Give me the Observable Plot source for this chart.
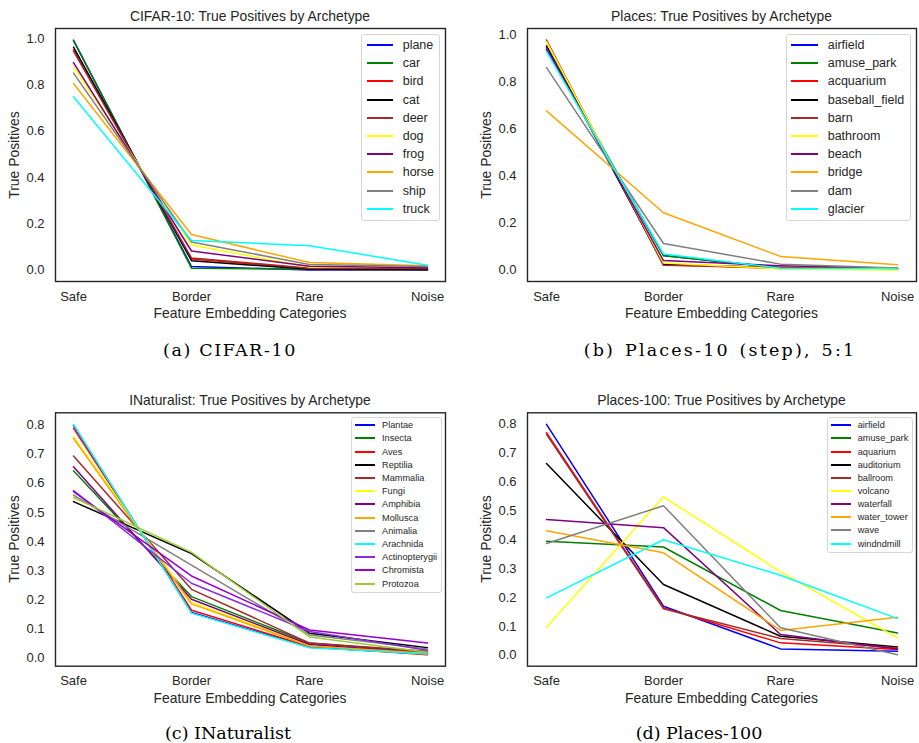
<!DOCTYPE html>
<html>
<head>
<meta charset="utf-8">
<script src="https://cdn.jsdelivr.net/npm/d3@7"></script>
<script src="https://cdn.jsdelivr.net/npm/@observablehq/plot@0.6"></script>
<style>
  body { margin: 0; background: #fff; }
  #root { position: relative; width: 919px; height: 743px; overflow: hidden;
          font-family: "Liberation Sans", Arial, sans-serif; color: #262626; background:#fff; }
  .abs { position: absolute; white-space: nowrap; }
  .ctr { transform: translate(-50%, -50%); }
  .ttl { font-size: 13.9px; }
  .axt { font-size: 13.9px; }
  .ylab { font-size: 13.9px; transform: translate(-50%, -50%) rotate(-90deg); }
  .cap { font-family: "DejaVu Serif", "Liberation Serif", serif; font-size: 17.5px; color: #000; }
  .leg { position: absolute; border: 1px solid #d6d6d6; border-radius: 3px; background: rgba(255,255,255,0.8); }
  .leg .sw { position: absolute; height: 2px; }
  .leg .lt { position: absolute; transform: translateY(-50%); white-space: nowrap; color: #262626; }
</style>
</head>
<body>
<div id="root"></div>
<script>
// ---------- shared ----------
const categories = ["Safe", "Border", "Rare", "Noise"];
const ticks10 = [0, 0.2, 0.4, 0.6, 0.8, 1.0];
const ticks08 = [0, 0.1, 0.2, 0.3, 0.4, 0.5, 0.6, 0.7, 0.8];

// ---------- (a) CIFAR-10 ----------
const cifarClasses = ["plane", "car", "bird", "cat", "deer", "dog", "frog", "horse", "ship", "truck"];
const cifarColors = ["#0000ff", "#008000", "#ff0000", "#000000", "#a52a2a", "#ffff00", "#800080", "#ffa500", "#808080", "#00ffff"];
// values per class: [Safe, Border, Rare, Noise]
const cifarValues = [
  [0.990, 0.015, 0.000, 0.002],
  [0.993, 0.008, 0.003, 0.003],
  [0.950, 0.048, 0.006, 0.008],
  [0.962, 0.040, 0.003, 0.000],
  [0.945, 0.052, 0.008, 0.006],
  [0.878, 0.108, 0.013, 0.012],
  [0.895, 0.082, 0.016, 0.010],
  [0.805, 0.153, 0.032, 0.018],
  [0.850, 0.121, 0.024, 0.015],
  [0.748, 0.127, 0.105, 0.021]
];

// ---------- (b) Places-10 ----------
const placesClasses = ["airfield", "amuse_park", "acquarium", "baseball_field", "barn", "bathroom", "beach", "bridge", "dam", "glacier"];
const placesColors = ["#0000ff", "#008000", "#ff0000", "#000000", "#a52a2a", "#ffff00", "#800080", "#ffa500", "#808080", "#00ffff"];
const placesValues = [
  [0.940, 0.062, 0.008, 0.005],
  [0.950, 0.061, 0.010, 0.006],
  [0.975, 0.022, 0.006, 0.004],
  [0.955, 0.025, 0.010, 0.006],
  [0.980, 0.020, 0.012, 0.005],
  [0.973, 0.030, 0.005, 0.000],
  [0.948, 0.040, 0.018, 0.007],
  [0.678, 0.244, 0.058, 0.022],
  [0.862, 0.113, 0.025, 0.008],
  [0.932, 0.068, 0.007, 0.006]
];

// ---------- (c) iNaturalist ----------
const inatClasses = ["Plantae", "Insecta", "Aves", "Reptilia", "Mammalia", "Fungi", "Amphibia", "Mollusca", "Animalia", "Arachnida", "Actinopterygii", "Chromista", "Protozoa"];
const inatColors = ["#0000ff", "#008000", "#ff0000", "#000000", "#a52a2a", "#ffff00", "#800080", "#ffa500", "#808080", "#00ffff", "#8a2be2", "#9400d3", "#9acd32"];
const inatValues = [
  [0.800, 0.155, 0.036, 0.012],
  [0.643, 0.210, 0.050, 0.018],
  [0.790, 0.163, 0.038, 0.010],
  [0.537, 0.358, 0.084, 0.034],
  [0.694, 0.235, 0.050, 0.022],
  [0.760, 0.190, 0.042, 0.015],
  [0.657, 0.201, 0.045, 0.016],
  [0.755, 0.185, 0.040, 0.015],
  [0.559, 0.318, 0.078, 0.030],
  [0.803, 0.153, 0.034, 0.012],
  [0.575, 0.256, 0.090, 0.025],
  [0.571, 0.281, 0.095, 0.050],
  [0.551, 0.362, 0.071, 0.018]
];

// ---------- (d) Places-100 ----------
const p100Classes = ["airfield", "amuse_park", "aquarium", "auditorium", "ballroom", "volcano", "waterfall", "water_tower", "wave", "windndmill"];
const p100Colors = ["#0000ff", "#008000", "#ff0000", "#000000", "#a52a2a", "#ffff00", "#800080", "#ffa500", "#808080", "#00ffff"];
const p100Values = [
  [0.800, 0.170, 0.022, 0.014],
  [0.395, 0.375, 0.155, 0.077],
  [0.771, 0.164, 0.043, 0.020],
  [0.664, 0.245, 0.066, 0.029],
  [0.765, 0.161, 0.058, 0.025],
  [0.097, 0.549, 0.289, 0.060],
  [0.470, 0.442, 0.072, 0.022],
  [0.431, 0.355, 0.086, 0.132],
  [0.387, 0.518, 0.095, 0.002],
  [0.199, 0.400, 0.277, 0.127]
];

// ---------- layout ----------
const panels = [
  { left: 0,   top: 0,   w: 460, h: 330, ml: 55, mr: 15, mt: 28, mb: 49,
    title: "CIFAR-10: True Positives by Archetype", caption: "(a) CIFAR-10", capX: 230, capY: 350, capLS: 1.6, capWS: 0,
    classes: cifarClasses, colors: cifarColors, values: cifarValues, ticks: ticks10,
    leg: { x: 360.7, y: 34.3, w: 77.3, h: 185, l0: 5, l1: 31, tx: 41, r0: 9.7, step: 18.2, fs: 12.5 } },
  { left: 460, top: 0,   w: 459, h: 330, ml: 67, mr: 3, mt: 28, mb: 49,
    title: "Places: True Positives by Archetype", caption: "(b) Places-10 (step), 5:1", capX: 720, capY: 350, capLS: 2.2, capWS: 2,
    classes: placesClasses, colors: placesColors, values: placesValues, ticks: ticks10,
    leg: { x: 785.7, y: 34.3, w: 123.6, h: 185, l0: 4.3, l1: 31, tx: 41, r0: 9.7, step: 18.2, fs: 12.5 } },
  { left: 0,   top: 383, w: 460, h: 330, ml: 55, mr: 15, mt: 29.3, mb: 47.3,
    title: "INaturalist: True Positives by Archetype", caption: "(c) INaturalist", capX: 228, capY: 733, capLS: 0, capWS: 0,
    classes: inatClasses, colors: inatColors, values: inatValues, ticks: ticks08,
    leg: { x: 351, y: 417.3, w: 89, h: 173.7, l0: 3, l1: 23, tx: 30, r0: 7, step: 13.2, fs: 9.2 } },
  { left: 460, top: 383, w: 459, h: 330, ml: 67, mr: 3, mt: 29.3, mb: 47.3,
    title: "Places-100: True Positives by Archetype", caption: "(d) Places-100", capX: 699, capY: 733, capLS: 0, capWS: 0,
    classes: p100Classes, colors: p100Colors, values: p100Values, ticks: ticks08,
    leg: { x: 826.7, y: 417.3, w: 84.6, h: 133.7, l0: 3.3, l1: 23.3, tx: 30, r0: 7, step: 13.15, fs: 9.2 } }
];

const root = document.getElementById("root");
function addText(cls, txt, x, y) {
  const d = document.createElement("div");
  d.className = "abs " + cls;
  d.textContent = txt;
  d.style.left = x + "px";
  d.style.top = y + "px";
  root.appendChild(d);
  return d;
}

for (const p of panels) {
  const rows = [];
  p.classes.forEach((c, i) => {
    categories.forEach((cat, j) => rows.push({ cls: c, cat, value: p.values[i][j] }));
  });
  const all = p.values.flat();
  const lo = d3.min(all), hi = d3.max(all), m = (hi - lo) * 0.05;

  const svg = Plot.plot({
    width: p.w, height: p.h,
    marginLeft: p.ml, marginRight: p.mr, marginTop: p.mt, marginBottom: p.mb,
    style: { fontFamily: "'Liberation Sans', Arial, sans-serif", fontSize: "13px", color: "#262626", background: "transparent", overflow: "visible" },
    x: { type: "point", domain: categories, padding: 0.152, label: null, tickSize: 0, tickPadding: 10 },
    y: { domain: [lo - m, hi + m], ticks: p.ticks, tickFormat: d3.format(".1f"), tickSize: 0, tickPadding: 11, label: null },
    color: { domain: p.classes, range: p.colors },
    marks: [
      Plot.line(rows, { x: "cat", y: "value", z: "cls", stroke: "cls", strokeWidth: 1.5 }),
      Plot.frame({ stroke: "#262626", strokeWidth: 1.4 })
    ]
  });
  svg.style.position = "absolute";
  svg.style.left = p.left + "px";
  svg.style.top = p.top + "px";
  root.appendChild(svg);

  const fx0 = p.left + p.ml, fx1 = p.left + p.w - p.mr;
  const fy0 = p.top + p.mt, fy1 = p.top + p.h - p.mb;
  const cx = (fx0 + fx1) / 2, cy = (fy0 + fy1) / 2;
  addText("ctr ttl", p.title, cx, fy0 - 12);
  addText("ctr axt", "Feature Embedding Categories", cx, fy1 + 32);
  addText("ylab", "True Positives", p.left + 14 + (p.left ? 12 : 0), cy);
  const cap = addText("ctr cap", p.caption, p.capX, p.capY);
  cap.style.letterSpacing = p.capLS + "px";
  cap.style.wordSpacing = p.capWS + "px";

  // legend
  const L = p.leg;
  const box = document.createElement("div");
  box.className = "leg";
  box.style.left = L.x + "px"; box.style.top = L.y + "px";
  box.style.width = L.w + "px"; box.style.height = L.h + "px";
  p.classes.forEach((c, i) => {
    const y = L.r0 + i * L.step;
    const sw = document.createElement("div");
    sw.className = "sw";
    sw.style.left = L.l0 + "px"; sw.style.width = (L.l1 - L.l0) + "px";
    sw.style.top = (y - 1) + "px";
    sw.style.background = p.colors[i];
    box.appendChild(sw);
    const t = document.createElement("div");
    t.className = "lt";
    t.style.left = L.tx + "px"; t.style.top = y + "px";
    t.style.fontSize = L.fs + "px";
    t.textContent = c;
    box.appendChild(t);
  });
  root.appendChild(box);
}
</script>
</body>
</html>
